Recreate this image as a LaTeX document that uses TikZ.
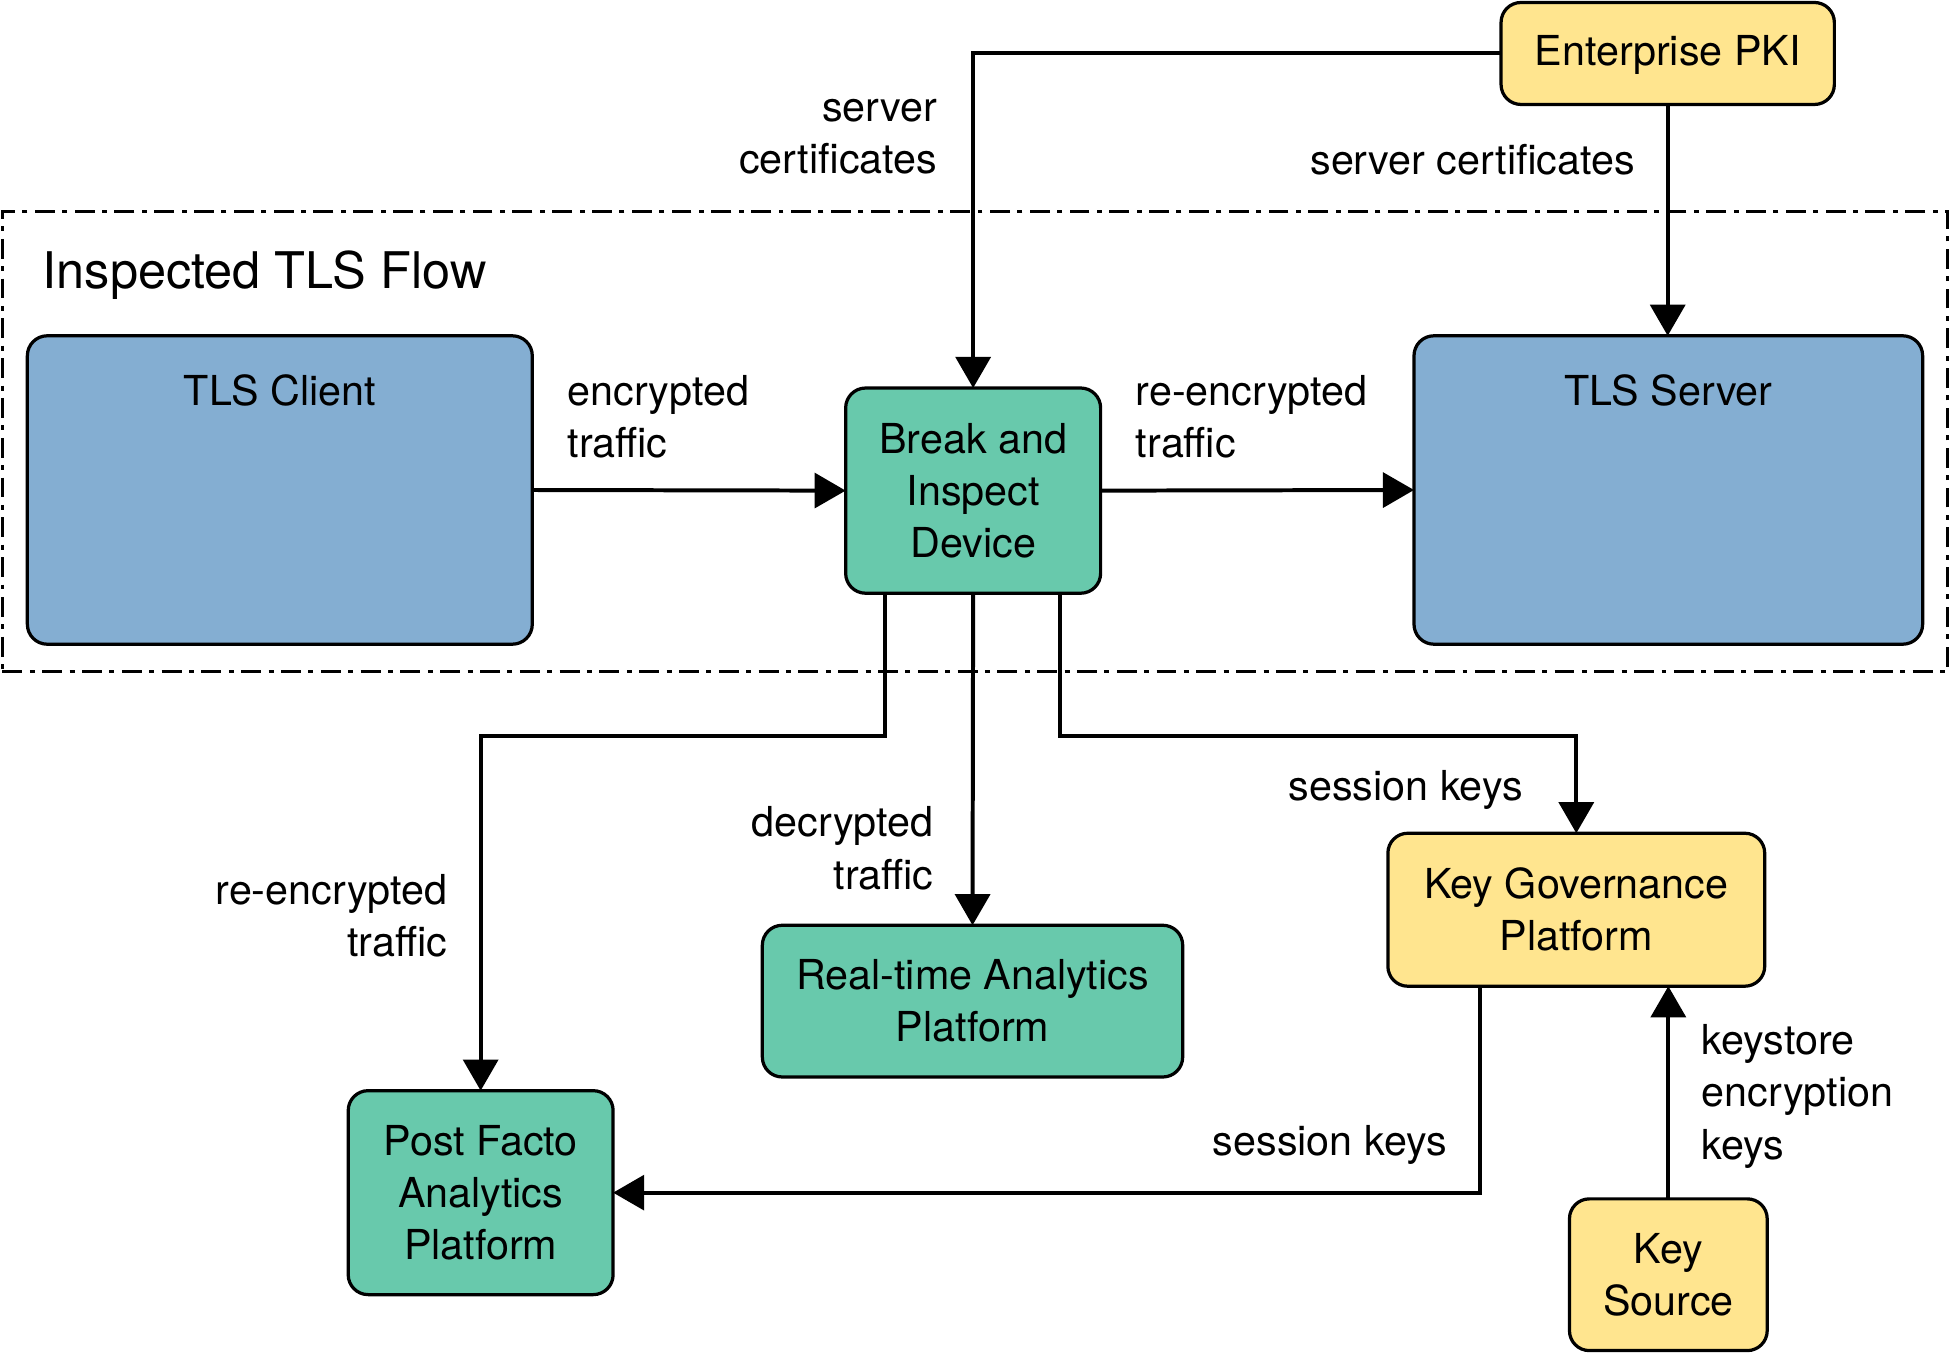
\documentclass[tikz,border=0pt]{standalone}
\usepackage{fontspec}
\setmainfont{TeX Gyre Heros}
\usetikzlibrary{arrows.meta,calc}
\definecolor{cblue}{RGB}{132,174,210}
\definecolor{cgreen}{RGB}{104,201,172}
\definecolor{cyellow}{RGB}{255,229,143}
\tikzset{
  box/.style={draw=black, line width=1.3pt, rounded corners=8pt, inner sep=0pt, outer sep=0pt, align=center,
    font=\fontsize{16.6}{21}\selectfont},
  bluebox/.style={box, fill=cblue},
  greenbox/.style={box, fill=cgreen},
  yellowbox/.style={box, fill=cyellow},
  arr/.style={line width=1.6pt, -{Triangle[length=12.5pt,width=14pt]}},
  lbl/.style={inner sep=0pt, font=\fontsize{16.6}{21}\selectfont},
  region/.style={draw=black, line width=1pt, dash pattern=on 8pt off 3pt on 2pt off 3pt, inner sep=0pt, outer sep=0pt}
}
\begin{document}
\begin{tikzpicture}[x=0.5pt,y=-0.5pt]
\useasboundingbox (0,0) rectangle (1568,1088);
% region
\node[region, minimum width=782pt, minimum height=185pt] (flow) at (784,355) {};
\node[lbl, anchor=west, font=\fontsize{20.3}{24}\selectfont] (title) at (34,221) {Inspected TLS Flow};
% boxes
\node[bluebox, minimum width=203pt, minimum height=124pt] (cli) at (225,394) {};
\node[lbl] (clit) at (225,314) {TLS Client};
\node[bluebox, minimum width=204.5pt, minimum height=124pt] (srv) at (1341.5,394) {};
\node[lbl] (srvt) at (1341.5,314) {TLS Server};
\node[greenbox, minimum width=102.5pt, minimum height=82.5pt] (brk) at (782.5,394.5) {Break and\\Inspect\\Device};
\node[yellowbox, minimum width=134pt, minimum height=41pt] (pki) at (1341,43) {};
\node[lbl] (pkit) at (1341,44.5) {Enterprise PKI};
\node[yellowbox, minimum width=151.5pt, minimum height=61.5pt] (kgp) at (1267.5,731.5) {Key Governance\\Platform};
\node[greenbox, minimum width=169pt, minimum height=61pt] (rt) at (782,805) {Real-time Analytics\\Platform};
\node[greenbox, minimum width=106.5pt, minimum height=82pt] (pf) at (386.5,959) {Post Facto\\Analytics\\Platform};
\node[yellowbox, minimum width=79.5pt, minimum height=61pt] (ks) at (1341.5,1025) {Key\\Source};
% junctions
\coordinate (j1) at (712,592);
\coordinate (j2) at (852,592);
\coordinate (j3) at (1190,959);
% connectors
\draw[arr] (pki.west) -| (brk.north);
\draw[arr] (pki.south) -- (pki.south |- srv.north);
\draw[arr] (cli.east) -- (brk.west);
\draw[arr] (brk.east) -- (srv.west);
\draw[arr] (brk.south -| j1) -- (j1) -| (pf.north);
\draw[arr] (brk.south) -- (rt.north);
\draw[arr] (brk.south -| j2) -- (j2) -| (kgp.north);
\draw[arr] (kgp.south -| j3) -- (j3) -- (pf.east);
\draw[arr] (ks.north) -- (kgp.south -| ks.north);
% labels
\node[lbl, anchor=east, align=right] (l1) at (754,110) {server\\certificates};
\node[lbl, anchor=east] (l2) at (1315,128.5) {server certificates};
\node[lbl, anchor=west, align=left] (l3) at (456,335) {encrypted\\traffic};
\node[lbl, anchor=west, align=left] (l4) at (913,335) {re-encrypted\\traffic};
\node[lbl, anchor=east, align=right] (l5) at (360,736.5) {re-encrypted\\traffic};
\node[lbl, anchor=east, align=right] (l6) at (751,682) {decrypted\\traffic};
\node[lbl, anchor=east] (l7) at (1225,635) {session keys};
\node[lbl, anchor=east] (l8) at (1164,921) {session keys};
\node[lbl, anchor=west, align=left] (l9) at (1368,881.5) {keystore\\encryption\\keys};
\end{tikzpicture}
\end{document}
